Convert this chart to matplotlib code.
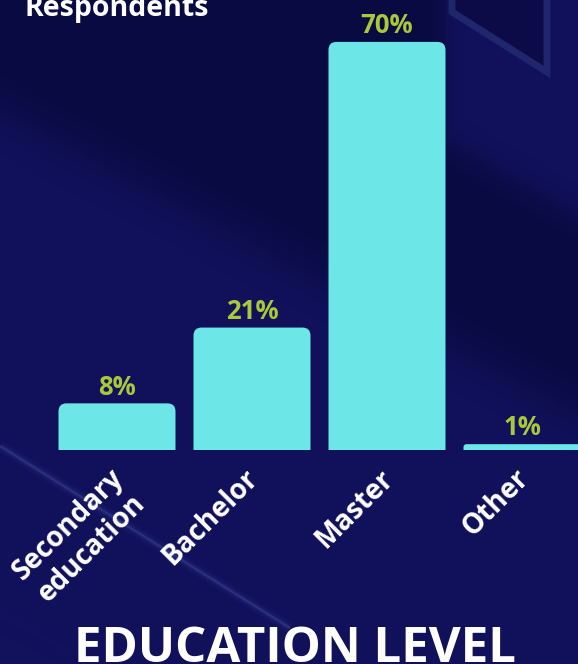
import numpy as np
import matplotlib.pyplot as plt
import matplotlib.transforms as mtransforms
from matplotlib.patches import FancyBboxPatch, Polygon

categories = ["Secondary\neducation", "Bachelor", "Master", "Other"]
shares = [8, 21, 70, 1]
share_labels = ["8%", "21%", "70%", "1%"]

BG = "#11105a"
BAR = "#6de6e8"
LABEL = "#a9c93a"

plt.rcParams['font.family'] = ['Open Sans', 'DejaVu Sans']
plt.rcParams['font.weight'] = 'bold'

W, H = 578, 664
fig = plt.figure(figsize=(W / 100, H / 100), dpi=100, facecolor=BG)

# soft backdrop: darker wedge in the upper part, lighter lower part
yy, xx = np.mgrid[0:H, 0:W].astype(float)
edge1 = 110 + (413 - 110) * xx / 578.0           # lower boundary of dark wedge
edge2 = 140 + (215 - 140) * (xx - 445) / 133.0    # right-hand boundary
dark = 1 / (1 + np.exp((yy - edge1) / 14.0))
right = 1 / (1 + np.exp((xx - 445) / 6.0))
right = np.maximum(right, 1 / (1 + np.exp(-(yy - edge2) / 10.0)))
dark = dark * right
light = np.array([0x11, 0x11, 0x5c]) / 255
deep = np.array([0x0a, 0x0a, 0x42]) / 255
img = light[None, None, :] * (1 - dark[..., None]) + deep[None, None, :] * dark[..., None]

bg = fig.add_axes([0, 0, 1, 1], zorder=0)
bg.imshow(img, extent=(0, W, H, 0), aspect='auto', interpolation='bilinear')
bg.set_xlim(0, W)
bg.set_ylim(H, 0)
bg.axis('off')
bg.add_patch(Polygon([(452, -5), (452, 12), (547, 72), (547, -5)], closed=True,
                     facecolor="#0c0b47", edgecolor="#20266c", lw=5))
for lw, a in [(8, 0.06), (4, 0.1), (1.5, 0.25)]:
    bg.plot([0, 290], [446, 628], color="#5a6cc0", lw=lw, alpha=a,
            solid_capstyle='butt')

# chart area: baseline at y=450 px, 135 px between bar centres
ax = fig.add_axes([0, (H - 450) / H, 1, 450 / H], zorder=1)
ax.patch.set_alpha(0)
px_per_unit = 135.0
px_per_pct = 5.83
ax.set_xlim(-117 / px_per_unit, (W - 117) / px_per_unit)
ax.set_ylim(0, 450 / px_per_pct)

xs = list(range(len(categories)))
bars = ax.bar(xs, shares, width=117 / px_per_unit, color=BAR)

# swap the plain bars for ones with rounded top corners;
# the lower corners fall below the baseline and are clipped away
aspect = px_per_unit / px_per_pct
for b in bars:
    x, w, h = b.get_x(), b.get_width(), b.get_height()
    b.set_visible(False)
    r_px = min(8, h * px_per_pct / 2)
    r = r_px / px_per_unit
    drop = 2 * r_px / px_per_pct
    ax.add_patch(FancyBboxPatch((x, -drop), w, h + drop,
                                boxstyle=f"round,pad=0,rounding_size={r}",
                                mutation_aspect=aspect, facecolor=BAR,
                                edgecolor='none', clip_on=True))

for x, v, lab in zip(xs, shares, share_labels):
    ax.annotate(lab, (x, v), xytext=(0, 2), textcoords='offset points',
                ha='center', va='bottom', color=LABEL, fontsize=18.5, fontweight='bold')

ax.set_xticks(xs)
ax.set_xticklabels(categories, rotation=45, ha='right', rotation_mode='anchor',
                   color='white', fontsize=20, fontweight='bold', multialignment='center')
ax.tick_params(axis='x', length=0, pad=10)
shift = mtransforms.ScaledTranslation(-8 / 100, 0, fig.dpi_scale_trans)
for t in ax.get_xticklabels():
    t.set_transform(t.get_transform() + shift)
ax.set_yticks([])
for s in ax.spines.values():
    s.set_visible(False)

fig.text(25 / W, 1 - 16 / H, "Respondents", color='white', fontsize=20.5,
         fontweight='bold', ha='left', va='baseline')
fig.text(295 / W, 2 / H, "EDUCATION LEVEL", color='white', fontsize=35.5,
         fontweight='bold', ha='center', va='baseline')

fig.savefig("out.png", dpi=100, facecolor=BG)
